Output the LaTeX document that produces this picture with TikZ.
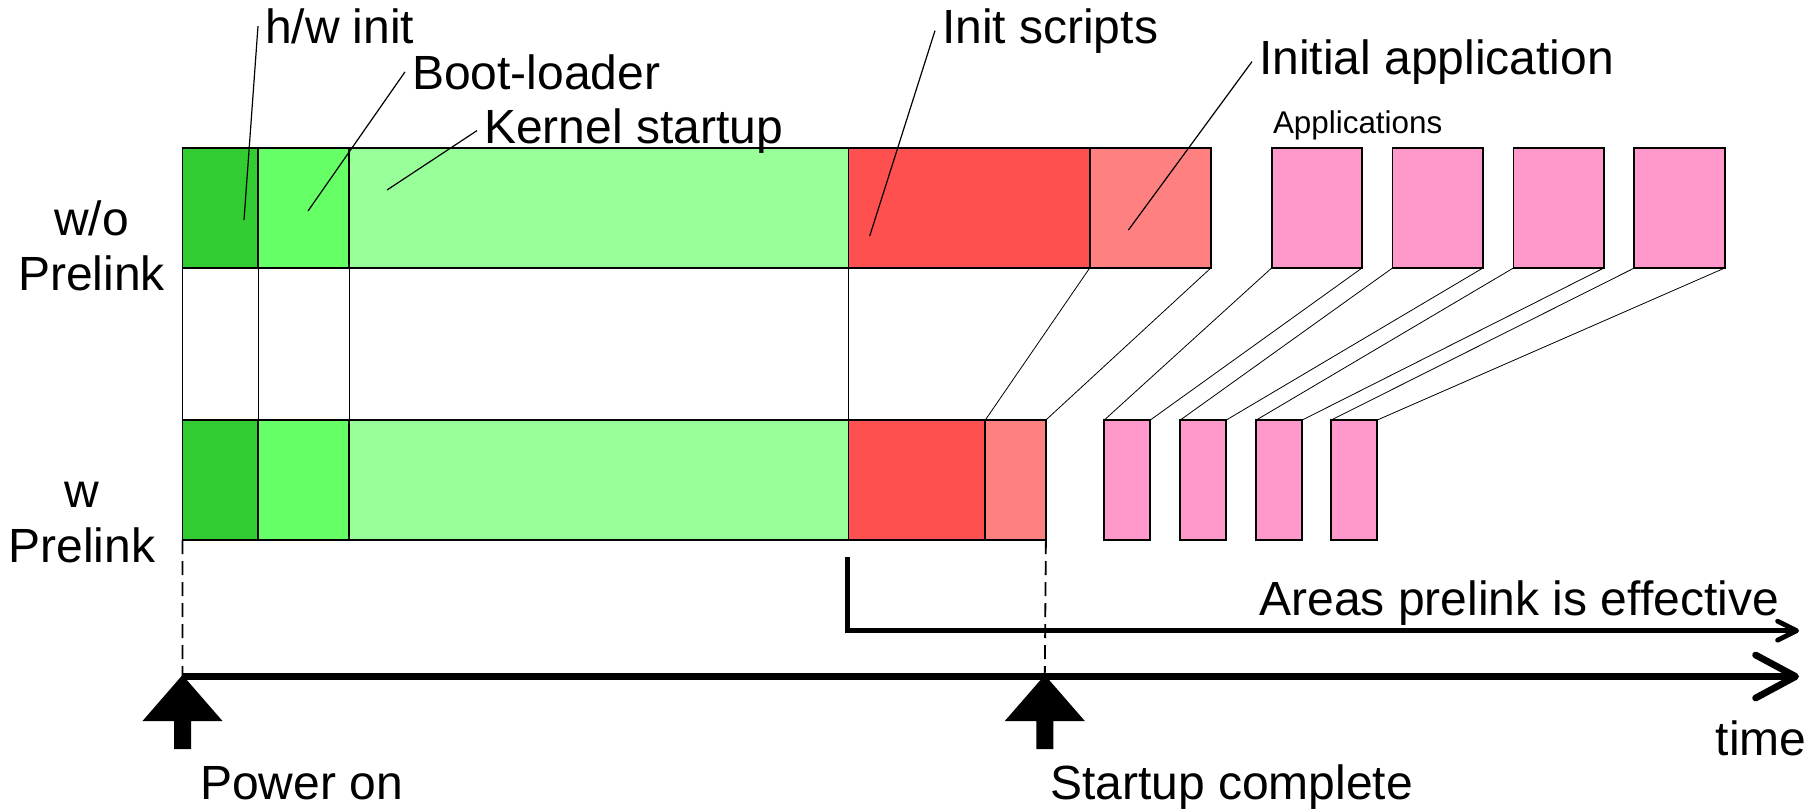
\documentclass[tikz,border=0pt]{standalone}
\usepackage{fontspec}
\setmainfont{Liberation Sans}
\usetikzlibrary{arrows.meta}

\definecolor{hwgreen}{RGB}{51,204,51}
\definecolor{bootgreen}{RGB}{102,255,102}
\definecolor{kerngreen}{RGB}{153,255,153}
\definecolor{initred}{RGB}{255,80,80}
\definecolor{iappred}{RGB}{255,128,128}
\definecolor{apppink}{RGB}{255,153,204}

\tikzset{
  seg/.style={draw, line width=0.9pt, minimum height=60pt, inner sep=0pt, outer sep=0pt},
  app/.style={seg, fill=apppink},
  guide/.style={line width=0.4pt},
  leader/.style={line width=0.6pt},
  txt/.style={font=\fontsize{24}{27.5}\selectfont, inner sep=3.5pt, outer sep=0pt, anchor=base west},
  side/.style={font=\fontsize{24}{27.5}\selectfont, inner sep=0pt, align=center},
  droplines/.style={line width=0.9pt, dash pattern=on 7pt off 3.5pt},
  axis/.style={line width=3.4pt, -{Straight Barb[length=20pt, width=21.5pt, round]}},
  effarrow/.style={line width=2.4pt, -{Straight Barb[length=9.5pt, width=9.5pt, round]}}
}

\begin{document}
\begin{tikzpicture}[x=0.5pt,y=0.5pt,yscale=-1,xscale=1]
\useasboundingbox (0,0) rectangle (1814,810);

% w/o prelink
\node[seg, fill=hwgreen, minimum width=37.9pt, anchor=north west] (t1) at (182.5,148) {};
\node[seg, fill=bootgreen, minimum width=45.35pt, anchor=west] (t2) at (t1.east) {};
\node[seg, fill=kerngreen, minimum width=249.75pt, anchor=west] (t3) at (t2.east) {};
\node[seg, fill=initred, minimum width=120.6pt, anchor=west] (t4) at (t3.east) {};
\node[seg, fill=iappred, minimum width=60.55pt, anchor=west] (t5) at (t4.east) {};

% w prelink
\node[seg, fill=hwgreen, minimum width=37.9pt, anchor=north west] (b1) at (182.5,420) {};
\node[seg, fill=bootgreen, minimum width=45.35pt, anchor=west] (b2) at (b1.east) {};
\node[seg, fill=kerngreen, minimum width=249.75pt, anchor=west] (b3) at (b2.east) {};
\node[seg, fill=initred, minimum width=68.4pt, anchor=west] (b4) at (b3.east) {};
\node[seg, fill=iappred, minimum width=30.3pt, anchor=west] (b5) at (b4.east) {};

\foreach \i in {1,...,5}
  \draw[guide] (t\i.south west) -- (b\i.north west);
\draw[guide] (t5.south east) -- (b5.north east);

\foreach \i/\xt/\xb in {1/1271.6/1104.3, 2/1392.5/1180.3, 3/1513.4/1256.3, 4/1634.3/1331.3}{
  \node[app, minimum width=45.2pt, anchor=north west] (ta\i) at (\xt,148) {};
  \node[app, minimum width=23pt, anchor=north west] (ba\i) at (\xb,420) {};
  \draw[guide] (ta\i.south west) -- (ba\i.north west) (ta\i.south east) -- (ba\i.north east);
}

\node[side] (wo) at (91.5,245.7) {w/o\\Prelink};
\node[side] (w) at (82,523) {w\\Prelink};

% labels and leaders
\node[txt] (hw) at (258,43.3) {h/w init};
\node[txt] (boot) at (405,89) {Boot-loader};
\node[txt] (kern) at (477,143) {Kernel startup};
\node[txt] (inits) at (935,43) {Init scripts};
\node[txt] (iapp) at (1252,74) {Initial application};
\node[txt, font=\fontsize{15.7}{18}\selectfont] (apps) at (1266,133) {Applications};

\coordinate (hwpt) at (244,220);
\coordinate (bootpt) at (308,211);
\coordinate (kernpt) at (387,190);
\coordinate (initpt) at (869.7,236);
\coordinate (iapppt) at (1128.4,230);
\draw[leader] (hw.west) -- (hwpt);
\draw[leader] (boot.west) -- (bootpt);
\draw[leader] (kern.west) -- (kernpt);
\draw[leader] (inits.west) -- (initpt);
\draw[leader] (iapp.west) -- (iapppt);

% time axis
\coordinate (tpow) at (182.5,676.5);
\coordinate (tdone) at (1044.8,676.5);
\coordinate (tend) at (1799,676.5);
\draw[droplines] (b1.south west) -- (tpow) (b5.south east) -- (tdone);
\draw[axis] (tpow) -- (tend);
\foreach \p in {tpow,tdone}
  \fill ([yshift=-0.75pt]\p) -- ++(40,46) -- ++(-31.5,0) -- ++(0,28) -- ++(-17,0) -- ++(0,-28) -- ++(-31.5,0) -- cycle;

\coordinate (ast) at (847.4,556.7);
\coordinate (aend) at (1799,630.7);
\draw[effarrow] (ast) |- (aend);

\node[txt] (areas) at (1252.6,615) {Areas prelink is effective};
\node[txt] (time) at (1708.8,755.7) {time};
\node[txt] (pwr) at (193,799.3) {Power on};
\node[txt] (done) at (1043,799.3) {Startup complete};

\end{tikzpicture}
\end{document}
